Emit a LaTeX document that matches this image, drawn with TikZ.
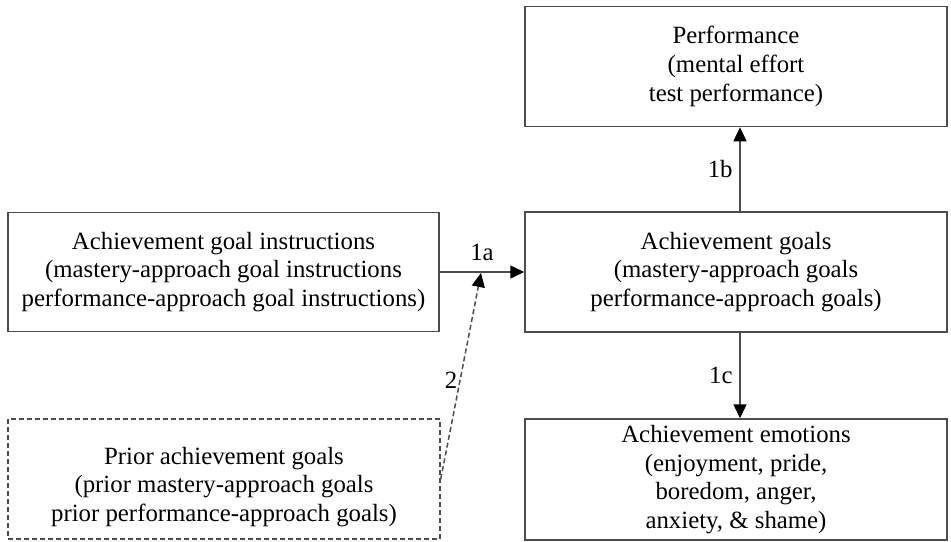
\documentclass[tikz,border=0pt]{standalone}
\usepackage{fontspec}
\setmainfont{Liberation Serif}
\usetikzlibrary{arrows.meta}

\begin{document}
\begin{tikzpicture}[x=0.5pt, y=-0.5pt,
    txt/.style={align=center, font=\fontsize{12.4}{14.4}\selectfont},
    box/.style={txt, draw=black!70, line width=0.75pt, inner sep=0pt},
    link/.style={draw=black!70, line width=0.75pt, -{Triangle[length=7pt,width=6.5pt,black]}}]
    \useasboundingbox (0,0) rectangle (951,541);

    % Boxes on the right
    \node[box, minimum width=211pt, minimum height=60pt] (perf) at (736,66.5) {Performance\\(mental effort\\test performance)};
    \node[box, minimum width=211pt, minimum height=60pt] (goals) at (736,272) {Achievement goals\\(mastery-approach goals\\performance-approach goals)};
    \node[box, minimum width=211pt, minimum height=60.5pt] (emot) at (736,479.5) {Achievement emotions\\(enjoyment, pride,\\boredom, anger,\\anxiety, \& shame)};

    % Boxes on the left
    \node[box, minimum width=215.5pt, minimum height=59.5pt] (instr) at (223.5,272) {Achievement goal instructions\\(mastery-approach goal instructions\\performance-approach goal instructions)};
    \node[box, dashed, dash pattern=on 2.5pt off 1.5pt, minimum width=216pt, minimum height=60pt] (prior) at (224,479) {};
    \node[txt] (priortext) at (224,487) {Prior achievement goals\\(prior mastery-approach goals\\prior performance-approach goals)};

    % Paths
    \draw[link] (instr.east) -- node[txt, above, yshift=2pt] (la) {1a} (goals.west);
    \draw[link] ([xshift=2pt]goals.north) -- node[txt, left] (lb) {1b} ([xshift=2pt]perf.south);
    \draw[link] ([xshift=2pt]goals.south) -- node[txt, left] (lc) {1c} ([xshift=2pt]emot.north);

    % Prior goals moderate path 1a
    \coordinate (meet) at (481,273);
    \draw[link, dash pattern=on 2.5pt off 1.5pt] (prior.east) -- node[txt, left, pos=0.48, inner sep=1pt] (ltwo) {2} (meet);
\end{tikzpicture}
\end{document}
